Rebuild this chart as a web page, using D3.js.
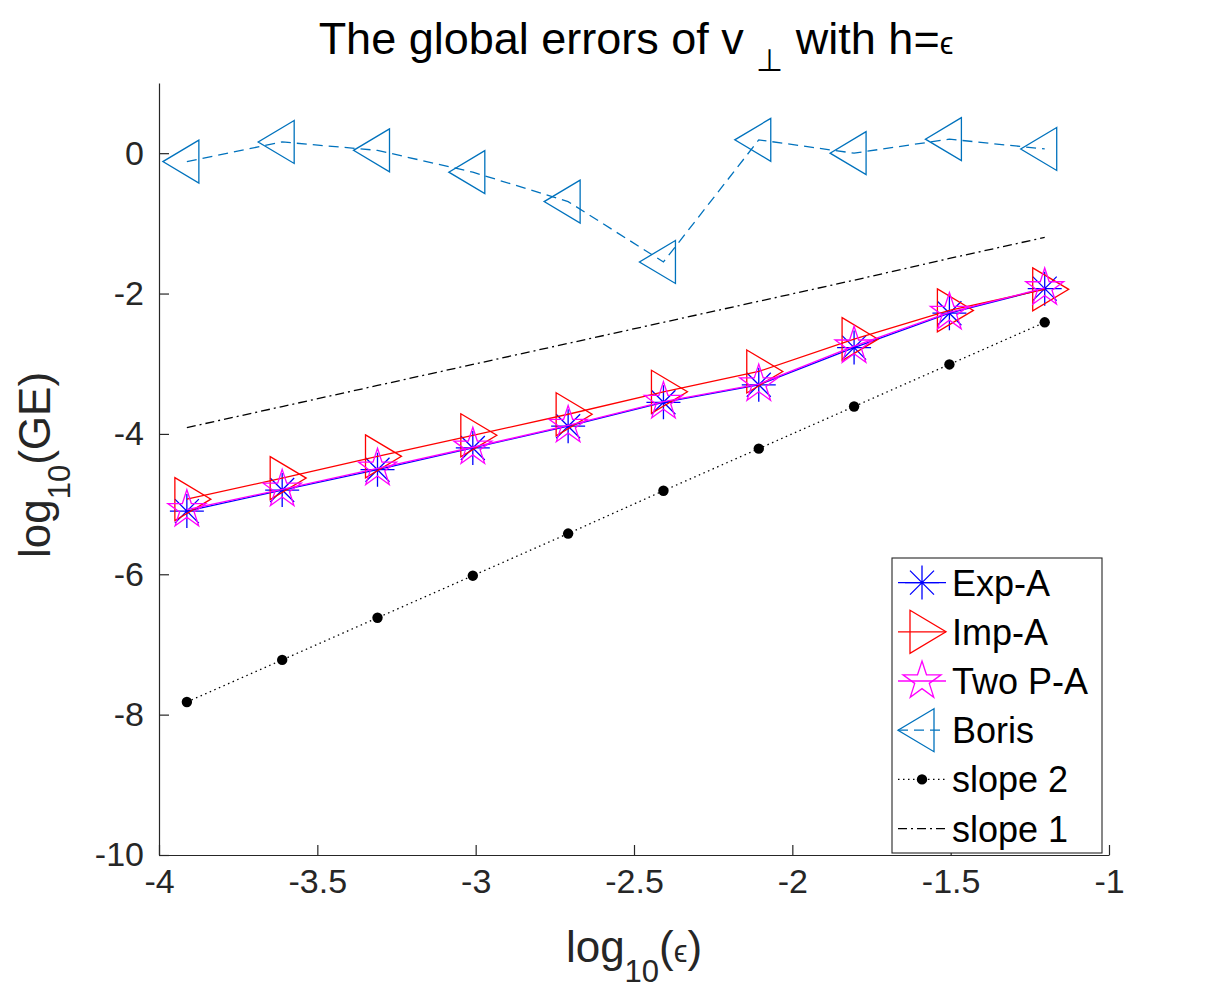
<!DOCTYPE html>
<html>
<head>
<meta charset="utf-8">
<script src="https://cdn.jsdelivr.net/npm/d3@7.9.0/dist/d3.min.js"></script>
<style>
  body { margin: 0; background: #fff; }
  svg { font-family: "Liberation Sans", Arial, sans-serif; }
</style>
</head>
<body>
<svg id="chart" width="1225" height="1003"></svg>
<script>
// log10(eps) for eps = 2^-13 ... 2^-4
const logEps = [-3.912, -3.611, -3.310, -3.009, -2.708, -2.407, -2.106, -1.805, -1.504, -1.203];

const expA  = [-5.10, -4.80, -4.51, -4.20, -3.89, -3.55, -3.30, -2.77, -2.28, -1.93];
const impA  = [-4.93, -4.63, -4.32, -4.02, -3.72, -3.40, -3.11, -2.65, -2.24, -1.94];
const twoPA = [-5.08, -4.79, -4.49, -4.19, -3.88, -3.54, -3.29, -2.75, -2.27, -1.92];
const boris = [-0.12, 0.16, 0.04, -0.27, -0.69, -1.55, 0.19, 0.00, 0.20, 0.06];
const slope2 = [-7.82, -7.22, -6.62, -6.02, -5.42, -4.81, -4.21, -3.61, -3.01, -2.41];
const slope1 = [-3.91, -3.61, -3.31, -3.01, -2.71, -2.41, -2.11, -1.81, -1.50, -1.20];

const xTicks = [-4, -3.5, -3, -2.5, -2, -1.5, -1];
const yTicks = [-10, -8, -6, -4, -2, 0];

const svg = d3.select("#chart");
const x = d3.scaleLinear().domain([-4, -1]).range([159, 1109]);
const y = d3.scaleLinear().domain([-10, 1]).range([855, 83]);

const axisColor = "#262626";

// marker shapes
const asterisk = "M-17,0L17,0M0,-17L0,17M-12,-12L12,12M-12,12L12,-12";
const triRight = "M-12,-21.5L24,0L-12,21.5Z";
const triLeft = "M12,-21.5L-24,0L12,21.5Z";
function pentagram(R) {
  const r = R * 0.382;
  let pts = [];
  for (let i = 0; i < 10; i++) {
    const a = -Math.PI / 2 + i * Math.PI / 5;
    const rr = i % 2 === 0 ? R : r;
    pts.push([rr * Math.cos(a), rr * Math.sin(a)]);
  }
  return "M" + pts.map(p => p[0].toFixed(2) + "," + p[1].toFixed(2)).join("L") + "Z";
}
const star = pentagram(20);

const series = [
  { name: "Exp-A", values: expA, color: "#0000ff", dash: null, marker: asterisk },
  { name: "Imp-A", values: impA, color: "#ff0000", dash: null, marker: triRight },
  { name: "Two P-A", values: twoPA, color: "#ff00ff", dash: null, marker: star },
  { name: "Boris", values: boris, color: "#0072bd", dash: "10,6", marker: triLeft },
  { name: "slope 2", values: slope2, color: "#000000", dash: "1.5,3.5", marker: "dot" },
  { name: "slope 1", values: slope1, color: "#000000", dash: "9,4,2,4", marker: null }
];

// axes
const xAxis = d3.axisBottom(x).tickValues(xTicks).tickSizeInner(-10).tickSizeOuter(0)
  .tickPadding(14).tickFormat(d => String(d));
const yAxis = d3.axisLeft(y).tickValues(yTicks).tickSizeInner(-10).tickSizeOuter(0)
  .tickPadding(15).tickFormat(d => String(d));

const gx = svg.append("g").attr("transform", "translate(0,855)").call(xAxis);
const gy = svg.append("g").attr("transform", "translate(159,0)").call(yAxis);
[gx, gy].forEach(g => {
  g.select(".domain").attr("stroke", axisColor).attr("stroke-width", 1.2);
  g.selectAll(".tick line").attr("stroke", axisColor).attr("stroke-width", 1.2);
  g.selectAll(".tick text").attr("fill", axisColor).style("font-size", "34px")
    .style("font-family", "'Liberation Sans', Arial, sans-serif");
});
gx.selectAll(".tick text").attr("dy", "0.71em");

// lines and markers
const line = d3.line().x((d, i) => x(logEps[i])).y(d => y(d));

series.forEach(s => {
  const g = svg.append("g");
  g.append("path")
    .attr("d", line(s.values))
    .attr("fill", "none")
    .attr("stroke", s.color)
    .attr("stroke-width", 1.3)
    .attr("stroke-dasharray", s.dash);
  if (s.marker === "dot") {
    g.selectAll("circle").data(s.values).join("circle")
      .attr("cx", (d, i) => x(logEps[i])).attr("cy", d => y(d))
      .attr("r", 5.2).attr("fill", s.color);
  } else if (s.marker) {
    g.selectAll("path.m").data(s.values).join("path").attr("class", "m")
      .attr("transform", (d, i) => `translate(${x(logEps[i])},${y(d)})`)
      .attr("d", s.marker)
      .attr("fill", "none").attr("stroke", s.color).attr("stroke-width", 1.3);
  }
});

// legend
const leg = svg.append("g");
leg.append("rect").attr("x", 892).attr("y", 558).attr("width", 210).attr("height", 295)
  .attr("fill", "#fff").attr("stroke", axisColor).attr("stroke-width", 1.1);
series.forEach((s, i) => {
  const cy = 582.6 + i * 49.2;
  const g = leg.append("g");
  g.append("line").attr("x1", 898).attr("x2", 946).attr("y1", cy).attr("y2", cy)
    .attr("stroke", s.color).attr("stroke-width", 1.3).attr("stroke-dasharray", s.dash);
  if (s.marker === "dot") {
    g.append("circle").attr("cx", 922).attr("cy", cy).attr("r", 5.2).attr("fill", s.color);
  } else if (s.marker) {
    g.append("path").attr("transform", `translate(922,${cy})`).attr("d", s.marker)
      .attr("fill", "none").attr("stroke", s.color).attr("stroke-width", 1.3);
  }
  g.append("text").attr("x", 952).attr("y", cy).attr("dy", "0.36em")
    .style("font-size", "36px").attr("fill", "#000").text(s.name);
});

// title
const title = svg.append("text").attr("x", 636).attr("y", 54).attr("text-anchor", "middle")
  .style("font-size", "45px").attr("fill", "#000");
title.append("tspan").text("The global errors of v  ");
title.append("tspan").attr("dy", 17).style("font-size", "31px").text("⊥");
title.append("tspan").attr("dy", -17).text(" with h=");
title.append("tspan").style("font-size", "31px").text("ϵ");

// x label
const xl = svg.append("text").attr("x", 634).attr("y", 962).attr("text-anchor", "middle")
  .style("font-size", "44px").attr("fill", axisColor);
xl.append("tspan").text("log");
xl.append("tspan").attr("dy", 20).style("font-size", "31px").text("10");
xl.append("tspan").attr("dy", -20).text("(");
xl.append("tspan").style("font-size", "31px").text("ϵ");
xl.append("tspan").text(")");

// y label
const yl = svg.append("text").attr("transform", "translate(50,465) rotate(-90)")
  .attr("text-anchor", "middle").style("font-size", "44px").attr("fill", axisColor);
yl.append("tspan").text("log");
yl.append("tspan").attr("dy", 20).style("font-size", "31px").text("10");
yl.append("tspan").attr("dy", -20).text("(GE)");
</script>
</body>
</html>
